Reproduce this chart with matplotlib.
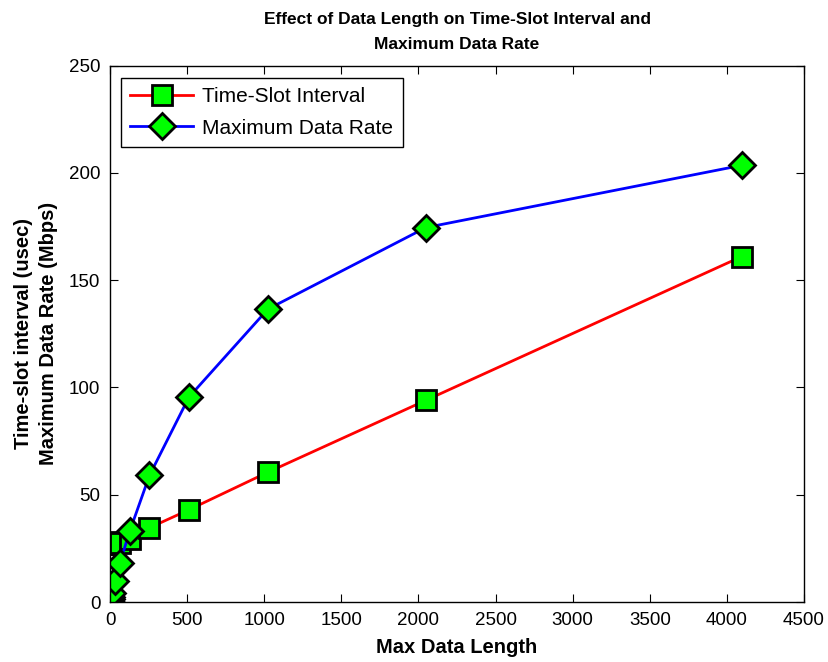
import numpy as np
import matplotlib
matplotlib.use("Agg")
import matplotlib.pyplot as plt

plt.rcParams['font.family'] = ['Liberation Sans', 'DejaVu Sans']

# data
data_length = [1, 2, 4, 8, 16, 32, 64, 128, 256, 512, 1024, 2048, 4096]
slot_interval = [27.0, 27.0, 27.1, 27.3, 27.5, 28.0, 27.7, 29.5, 34.6, 43.0, 60.5, 94.0, 161.0]
max_rate = [0.3, 0.6, 1.2, 2.3, 4.3, 9.6, 18.2, 33.0, 59.0, 95.5, 136.5, 174.5, 203.5]

fig = plt.figure(figsize=(8.29, 6.62), dpi=100)
ax = fig.add_axes([0.1327, 0.0906, 0.8372, 0.8104])

ax.plot(data_length, slot_interval, color='red', lw=2, marker='s', ms=14.5,
        mfc='#00ff00', mec='black', mew=2, label='Time-Slot Interval')
ax.plot(data_length, max_rate, color='blue', lw=2, marker='D', ms=13,
        mfc='#00ff00', mec='black', mew=2, label='Maximum Data Rate')

ax.set_xlim(0, 4500)
ax.set_ylim(0, 250)
ax.set_xticks(np.arange(0, 4501, 500))
ax.set_yticks(np.arange(0, 251, 50))
ax.tick_params(direction='in', top=True, right=True, labelsize=13.5, length=6,
               pad=7)
for s in ax.spines.values():
    s.set_linewidth(1)

ax.set_title('Effect of Data Length on Time-Slot Interval and\nMaximum Data Rate',
             fontsize=12.5, fontweight='bold', pad=12, linespacing=1.85)
ax.set_xlabel('Max Data Length', fontsize=14.5, fontweight='bold', labelpad=7)
ax.set_ylabel('Time-slot interval (usec)\nMaximum Data Rate (Mbps)', fontsize=14.5,
              fontweight='bold', linespacing=1.35, labelpad=8)

leg = ax.legend(loc='upper left', fontsize=15, fancybox=False, framealpha=1,
                edgecolor='black', handlelength=3.0, handletextpad=0.45,
                borderpad=0.45, labelspacing=0.6, borderaxespad=0,
                bbox_to_anchor=(0.016, 0.977))
leg.get_frame().set_linewidth(1)

fig.savefig('out.png', dpi=100)
